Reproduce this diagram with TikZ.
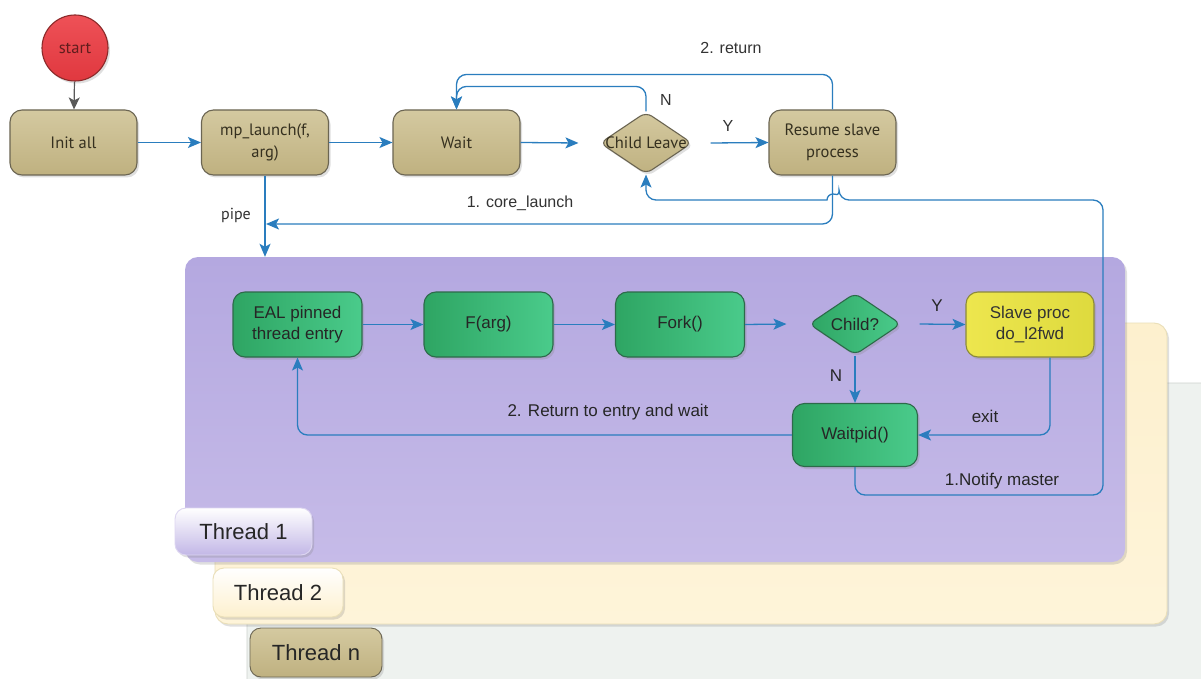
\documentclass[tikz,border=0pt]{standalone}
\usepackage{fontspec}
\setmainfont{Liberation Sans}
\newfontfamily\topfont{PT Sans}
\usetikzlibrary{shapes.geometric,arrows.meta,shadows}
\definecolor{tanA}{HTML}{D4C9A0}
\definecolor{tanB}{HTML}{BFB180}
\definecolor{tanedge}{HTML}{6B6552}
\definecolor{toptext}{HTML}{35301F}
\definecolor{redA}{HTML}{EE5157}
\definecolor{redB}{HTML}{E0383F}
\definecolor{rededge}{HTML}{8B2A2A}
\definecolor{grA}{HTML}{2EA563}
\definecolor{grB}{HTML}{4ACB8B}
\definecolor{gredge}{HTML}{2D6A4A}
\definecolor{yelA}{HTML}{EDE64E}
\definecolor{yelB}{HTML}{DEDA3E}
\definecolor{yeledge}{HTML}{8C8A3A}
\definecolor{purA}{HTML}{B4A8E0}
\definecolor{purB}{HTML}{C6BBE8}
\definecolor{creamA}{HTML}{FDF0CE}
\definecolor{creamB}{HTML}{FEF4D9}
\definecolor{creamedge}{HTML}{EADFB8}
\definecolor{greyA}{HTML}{EEF2EF}
\definecolor{greyedge}{HTML}{CDD2CE}
\definecolor{lineblue}{HTML}{2A7DBE}
\definecolor{labtext}{HTML}{333333}
\begin{document}
\begin{tikzpicture}[x=1pt,y=-1pt,
  shd/.style={drop shadow={shadow xshift=2pt,shadow yshift=-2.5pt,opacity=0.25}},
  tanbox/.style={rectangle,rounded corners=12pt,draw=tanedge,line width=1.1pt,
    top color=tanA,bottom color=tanB,minimum width=127pt,minimum height=65pt,
    inner sep=2pt,align=center,text=toptext,
    font=\topfont\fontsize{16.5}{22}\selectfont,shd},
  tandia/.style={diamond,rounded corners=7pt,draw=tanedge,line width=1.1pt,
    top color=tanA,bottom color=tanB,minimum width=92pt,minimum height=62pt,
    inner sep=0pt,text=toptext,font=\topfont\fontsize{16.5}{20}\selectfont,shd},
  greenbox/.style={rectangle,rounded corners=12pt,draw=gredge,line width=1.1pt,
    left color=grA,right color=grB,minimum width=129pt,minimum height=65pt,
    inner sep=2pt,align=center,text=black!85,
    font=\fontsize{17}{21}\selectfont,shd},
  greendia/.style={diamond,rounded corners=7pt,draw=gredge,line width=1.1pt,
    left color=grA,right color=grB,minimum width=92pt,minimum height=62pt,
    inner sep=0pt,text=black!85,font=\fontsize{17}{20}\selectfont,shd},
  panel/.style={rectangle,rounded corners=13pt,inner sep=0pt},
  tab/.style={rectangle,rounded corners=11pt,inner sep=0pt,line width=0.9pt,
    font=\fontsize{22}{24}\selectfont,text=black!85,shd},
  arr/.style={draw=lineblue,line width=1.3pt,rounded corners=10pt,
    -{Stealth[length=13pt,width=11pt,inset=3pt]}},
  lab/.style={font=\fontsize{16}{18}\selectfont,text=labtext},
  toplab/.style={font=\topfont\fontsize{16}{18}\selectfont,text=labtext},
  lowlab/.style={font=\fontsize{17}{19}\selectfont,text=black!85}
]
\fill[white] (0,0) rectangle (1201,679);
\useasboundingbox (0,0) rectangle (1201,679);

% thread panels
\node[panel,fill=greyA,draw=greyedge,line width=0.9pt,minimum width=968pt,minimum height=317pt] (p3) at (731,541.5) {};
\node[panel,top color=creamA,bottom color=creamB,draw=creamedge,line width=0.9pt,minimum width=952pt,minimum height=301pt,shd] (p2) at (691,473.5) {};
\node[panel,top color=purA,bottom color=purB,minimum width=940pt,minimum height=305pt,shd] (p1) at (655,409.5) {};

\node[tab,top color=white,bottom color=purB!80!purA,draw=purB!60!white,minimum width=137pt,minimum height=47pt] (t1) at (243.5,531.5) {Thread 1};
\node[tab,top color=white,bottom color=creamA,draw=creamedge,minimum width=130pt,minimum height=49pt] (t2) at (278,592.5) {Thread 2};
\node[tab,top color=tanA,bottom color=tanB,draw=tanedge,minimum width=132pt,minimum height=49pt] (tn) at (316,652.5) {Thread n};

% top flow
\node[circle,draw=rededge,line width=1.1pt,top color=redA,bottom color=redB,
  minimum size=66pt,inner sep=0pt,text=rededge!70!black,
  font=\topfont\fontsize{16.5}{20}\selectfont,shd] (start) at (75,48) {start};
\node[tanbox] (init) at (73.5,142.5) {Init all};
\node[tanbox] (mp) at (265,142.5) {mp\_launch(f,\\arg)};
\node[tanbox] (wait) at (456.5,142.5) {Wait};
\node[tandia] (cl) at (646,143) {\makebox[0pt]{Child Leave}};
\node[tanbox] (res) at (832.5,142.5) {Resume slave\\process};

% inner flow
\node[greenbox] (eal) at (297.5,324.5) {EAL pinned\\thread entry};
\node[greenbox] (farg) at (488.5,324.5) {F(arg)};
\node[greenbox] (fork) at (680,324.5) {Fork()};
\node[greendia] (ch) at (855,324) {\makebox[0pt]{Child?}};
\node[greenbox,left color=yelA,right color=yelB,draw=yeledge,text=black!80,minimum width=128pt] (slave) at (1030,324.5) {Slave proc\\do\_l2fwd};
\node[greenbox,minimum width=125pt,minimum height=63pt] (wp) at (855,435) {Waitpid()};

% connectors top
\draw[draw=black!65,line width=1.2pt,-{Stealth[length=12pt,width=11pt,inset=3pt]}] (start) -- (init);
\draw[arr] (init) -- (mp);
\draw[arr] (mp) -- (wait);
\draw[arr] (wait.east) -- ([xshift=-21pt]cl.west);
\draw[arr] ([xshift=18pt]cl.east) -- (res.west);
\draw[arr] (cl.north) |- ([yshift=23pt]wait.north) -- (wait.north);
\draw[arr] (res.north) |- ([yshift=35pt]wait.north) -- (wait.north);
\coordinate (cj) at (266,224);
\draw[arr] (res.south) |- (cj);
\draw[arr] (mp.south) -- (mp.south |- p1.north);

% connectors inner
\draw[arr] (eal) -- (farg);
\draw[arr] (farg) -- (fork);
\draw[arr] (fork.east) -- ([xshift=-22pt]ch.west);
\draw[arr] ([xshift=18pt]ch.east) -- (slave.west);
\draw[arr] (ch.south) -- (wp.north);
\draw[arr] ([xshift=20pt]slave.south) |- (wp.east);
\draw[arr] (wp.west) -| (eal.south);
\draw[arr] (wp.south) |- (1103,495) -- (1103,200) -- (839,200)
  {[sharp corners] arc[start angle=0,end angle=-180,radius=6]} -- (646,200) -- (cl.south);

% labels
\node[lab] (lret) at (731,48) {2. return};
\node[lab] (lN) at (666,100) {N};
\node[lab] (lY) at (728,126) {Y};
\node[lab] (lcore) at (520,203) {1. core\_launch};
\node[toplab] (lpipe) at (236,215) {pipe};
\node[lowlab] (lY2) at (937,306) {Y};
\node[lowlab] (lN2) at (836,376) {N};
\node[lowlab] (lexit) at (985,416) {exit};
\node[lowlab] (lrte) at (608,412) {2. Return to entry and wait};
\node[lowlab] (lnot) at (1002,481) {1.Notify master};
\end{tikzpicture}
\end{document}
